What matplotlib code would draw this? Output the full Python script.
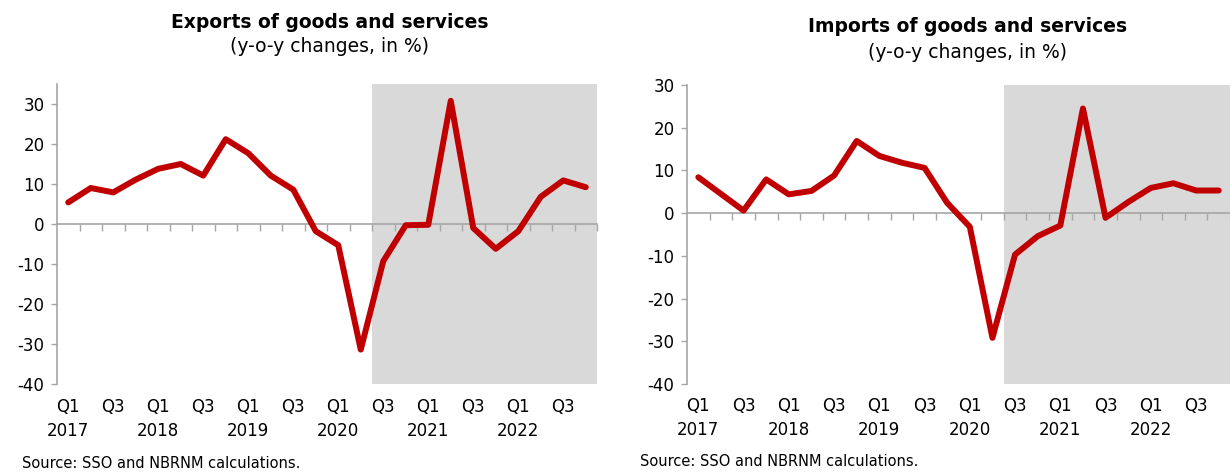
import matplotlib
matplotlib.use("Agg")
import matplotlib.pyplot as plt
import matplotlib.transforms as mtransforms

quarters = ["Q1", "Q2", "Q3", "Q4"] * 6
years = ["2017", "2018", "2019", "2020", "2021", "2022"]

exports = [5.4, 9.0, 7.9, 11.1, 13.8, 15.0, 12.1, 21.2, 17.7, 12.1, 8.6, -1.8,
           -5.3, -31.4, -9.3, -0.3, -0.2, 30.8, -1.0, -6.2, -1.8, 6.8, 10.9, 9.2]
imports = [8.4, 4.5, 0.6, 7.9, 4.4, 5.2, 8.8, 16.9, 13.4, 11.8, 10.6, 2.4,
           -3.2, -29.2, -9.7, -5.4, -2.9, 24.5, -1.1, 2.6, 5.9, 7.0, 5.3, 5.3]

titles = ["Exports of goods and services", "Imports of goods and services"]
subtitle = "(y-o-y changes, in %)"
source = "Source: SSO and NBRNM calculations."
shade_start = 14  # Q3 2020 index

plt.rcParams['font.family'] = ['DejaVu Sans']
plt.rcParams['axes.unicode_minus'] = False
fig = plt.figure(figsize=(12.3, 4.73), dpi=100)

axes_rects = [
    [57 / 1230, 1 - 384 / 473, 540 / 1230, 300 / 473],
    [687 / 1230, 1 - 384 / 473, 543 / 1230, 299 / 473],
]
ylims = [(-40, 35), (-40, 30)]
series = [exports, imports]
title_pos = [(330 / 1230, 1 - 22 / 473, 1 - 47 / 473), (968 / 1230, 1 - 26 / 473, 1 - 52 / 473)]
source_pos = [(22 / 1230, 1 - 463 / 473), (640 / 1230, 1 - 461 / 473)]

gray = "#A6A6A6"
red = "#C00000"

for i in range(2):
    ax = fig.add_axes(axes_rects[i])
    n = len(series[i])
    xs = list(range(n))
    ax.set_xlim(-0.5, n - 0.5)
    ax.set_ylim(*ylims[i])
    ax.axvspan(shade_start - 0.5, n - 0.5, color="#D9D9D9", zorder=0, lw=0)
    ax.plot(xs, series[i], color=red, lw=4.3, zorder=3, solid_joinstyle="round",
            solid_capstyle="round")

    for s in ["top", "right"]:
        ax.spines[s].set_visible(False)
    ax.spines["left"].set_color(gray)
    ax.spines["left"].set_linewidth(1.2)
    ax.spines["bottom"].set_position(("data", 0))
    ax.spines["bottom"].set_color(gray)
    ax.spines["bottom"].set_linewidth(1.2)
    ax.spines["bottom"].set_zorder(2)

    ax.set_yticks(range(-40, 31, 10))
    ax.tick_params(axis="y", direction="out", length=4, width=1, color=gray,
                   labelsize=12, pad=5)
    ax.set_xticks([k - 0.5 for k in range(1, n + 1)])
    ax.set_xticklabels([])
    ax.tick_params(axis="x", direction="out", length=5, width=1, color=gray)

    trans = mtransforms.blended_transform_factory(ax.transData, ax.transAxes)
    for k in range(0, n, 2):
        ax.text(k, -0.075, quarters[k], transform=trans, ha="center", va="center", fontsize=12)
        if k % 4 == 0:
            ax.text(k, -0.155, years[k // 4], transform=trans, ha="center", va="center", fontsize=12)

    tx, ty1, ty2 = title_pos[i]
    fig.text(tx, ty1, titles[i], ha="center", va="center", fontsize=13.5, fontweight="bold")
    fig.text(tx, ty2, subtitle, ha="center", va="center", fontsize=13.5)
    sx, sy = source_pos[i]
    fig.text(sx, sy, source, ha="left", va="center", fontsize=10.5)

fig.savefig("out.png", dpi=100)
